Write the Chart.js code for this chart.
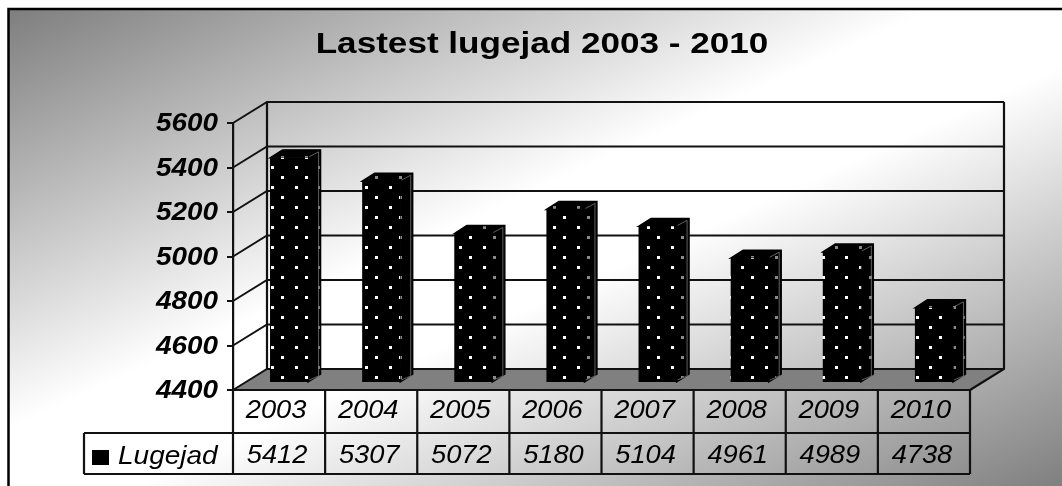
<!DOCTYPE html>
<html><head><meta charset="utf-8">
<script src="https://cdn.jsdelivr.net/npm/chart.js@4"></script>
<style>html,body{margin:0;padding:0;background:#fff}canvas{display:block}</style>
</head><body><canvas id="c" width="1062" height="486"></canvas>
<script>
const chartTitle = "Lastest lugejad 2003 - 2010";
const seriesName = "Lugejad";
const categories = ["2003","2004","2005","2006","2007","2008","2009","2010"];
const lugejad = [5412,5307,5072,5180,5104,4961,4989,4738];
const yMin = 4400, yMax = 5600, yStep = 200;

const WALL = {dx:34, dy:-21}, BAR = {ox:10, oy:-7, dx:12.5, dy:-8};
const STRETCH = 1.09;

function dotPattern(color, ox, oy){
  const t = document.createElement('canvas'); t.width = 47; t.height = 20;
  const g = t.getContext('2d');
  g.fillStyle = '#000'; g.fillRect(0,0,47,20);
  g.fillStyle = color;
  [[0,0],[24,0],[10,10],[34,10]].forEach(p=>g.fillRect(p[0],p[1],3,3));
  const pat = g.createPattern(t,'repeat');
  pat.setTransform(new DOMMatrix().translate(ox,oy));
  return pat;
}
const frontPattern = dotPattern('#ffffff', 271-BAR.ox, 166-BAR.oy);
const sidePattern  = dotPattern('#8a8a8a', 271, 166);

function wideText(c, text, x, y, sx){
  c.save(); c.translate(x,y); c.scale(sx,1); c.fillText(text,0,0); c.restore();
}

const scene = {
  id:'scene',
  afterLayout(chart){
    const c = chart.ctx, tb = chart.titleBlock, xs = chart.scales.x, ys = chart.scales.y;
    const titleDraw = tb.draw;
    tb.draw = function(){
      const cx = (this.left+this.right)/2;
      c.save(); c.translate(542,0); c.scale(1.17,1); c.translate(-cx,0);
      titleDraw.call(this); c.restore();
    };
    const yLabels = ys.drawLabels;
    ys.drawLabels = function(ca){
      const ax = this.right-15;
      c.save(); c.translate(ax,1.5); c.scale(1.115,1); c.translate(-ax,0);
      yLabels.call(this,ca); c.restore();
    };
    xs.drawLabels = function(){
      const f = this.options.ticks.font;
      c.save();
      c.font = f.style+' '+f.size+'px '+f.family;
      c.fillStyle = '#000'; c.textAlign='center'; c.textBaseline='middle';
      this.ticks.forEach((t,i)=>wideText(c,String(t.label),this.getPixelForTick(i)-3,411,STRETCH));
      c.restore();
    };
  },
  beforeDraw(chart){
    const c = chart.ctx, W = chart.width, H = chart.height;
    c.save();
    const g = c.createLinearGradient(356,-148,714,642);
    g.addColorStop(0,'#7e7e7e'); g.addColorStop(0.44,'#ffffff'); g.addColorStop(0.56,'#ffffff');
    g.addColorStop(1,'#808080');
    c.fillStyle = g; c.fillRect(8,9,W-8,H-9);
    c.strokeStyle = '#000'; c.lineWidth = 2.5;
    c.beginPath(); c.moveTo(8.5,H); c.lineTo(8.5,9); c.lineTo(W,9); c.stroke();
    c.restore();
  },
  beforeDatasetsDraw(chart){
    const c = chart.ctx, y = chart.scales.y, a = chart.chartArea;
    const L=a.left, R=a.right, B=a.bottom, T=a.top, dx=WALL.dx, dy=WALL.dy;
    c.save();
    c.fillStyle = '#808080';
    c.beginPath(); c.moveTo(L,B); c.lineTo(R,B); c.lineTo(R+dx,B+dy); c.lineTo(L+dx,B+dy); c.closePath(); c.fill();
    c.strokeStyle = '#111'; c.lineWidth = 2;
    y.ticks.forEach((t,i)=>{
      const p = y.getPixelForTick(i);
      c.beginPath(); c.moveTo(L,p); c.lineTo(L+dx,p+dy); c.lineTo(R+dx,p+dy); c.stroke();
    });
    c.lineWidth = 2.2;
    c.beginPath(); c.moveTo(L+dx,T+dy); c.lineTo(L+dx,B+dy); c.stroke();
    c.beginPath(); c.moveTo(R+dx,T+dy); c.lineTo(R+dx,B+dy); c.lineTo(R,B); c.stroke();
    c.restore();
  },
  beforeDatasetDraw(chart,args){
    const c = chart.ctx;
    c.save();
    args.meta.data.forEach(b=>{
      const x0=b.x-b.width/2+BAR.ox, x1=b.x+b.width/2+BAR.ox, top=b.y+BAR.oy, bot=b.base+BAR.oy;
      const dx=BAR.dx, dy=BAR.dy;
      c.fillStyle = sidePattern;
      c.beginPath(); c.moveTo(x0,top); c.lineTo(x0+dx,top+dy); c.lineTo(x1+dx,top+dy); c.lineTo(x1+dx,bot+dy); c.lineTo(x1,bot); c.lineTo(x1,top); c.closePath(); c.fill();
      c.strokeStyle='#000'; c.lineWidth=1.4; c.stroke();
      c.strokeStyle='#777'; c.lineWidth=0.8;
      c.beginPath(); c.moveTo(x1+1,top-1); c.lineTo(x1+dx-2,top+dy+2); c.lineTo(x1+dx-2,bot+dy+2); c.lineTo(x1+1,bot-2); c.stroke();
    });
    c.restore();
    c.save();
    c.translate(BAR.ox,BAR.oy);
  },
  afterDatasetDraw(chart){ chart.ctx.restore(); },
  afterDraw(chart){
    const c = chart.ctx, x = chart.scales.x, a = chart.chartArea;
    const L=a.left, R=a.right, B=a.bottom, rowMid=433, bot=474, legL=84;
    c.save();
    c.strokeStyle='#111'; c.lineWidth=2.2;
    c.beginPath();
    c.moveTo(L,B); c.lineTo(L,bot);
    c.moveTo(R,B); c.lineTo(R,bot);
    c.moveTo(L,B); c.lineTo(R,B);
    c.moveTo(legL,rowMid); c.lineTo(R,rowMid);
    c.moveTo(legL,bot); c.lineTo(R,bot);
    c.moveTo(legL,rowMid); c.lineTo(legL,bot);
    categories.forEach((k,i)=>{
      if(i===0) return;
      const p=(x.getPixelForValue(i-1)+x.getPixelForValue(i))/2;
      c.moveTo(p,B); c.lineTo(p,bot);
    });
    c.stroke();
    c.fillStyle='#000'; c.textBaseline='middle';
    c.font='italic 25px "Liberation Sans"'; c.textAlign='center';
    lugejad.forEach((v,i)=>wideText(c,String(v),x.getPixelForValue(i)-2,456,STRETCH));
    c.textAlign='left';
    wideText(c,seriesName,118,457,1.12);
    c.fillRect(92,450,17,15);
    c.restore();
  }
};

new Chart(document.getElementById('c'),{
  type:'bar',
  data:{labels:categories,datasets:[{label:seriesName,data:lugejad,base:yMin,backgroundColor:frontPattern,
    categoryPercentage:1,barPercentage:0.413,borderWidth:0,clip:false}]},
  options:{
    responsive:false,animation:false,
    layout:{padding:{left:0,right:92,top:0,bottom:0}},
    plugins:{
      legend:{display:false},tooltip:{enabled:false},
      title:{display:true,text:chartTitle,color:'#000',font:{family:'"Liberation Sans"',size:30,weight:'bold',lineHeight:1.2},padding:{top:27,bottom:60}}
    },
    scales:{
      x:{offset:true,afterFit(s){s.height=96;},
        grid:{display:false},border:{display:false},
        ticks:{color:'#000',padding:8,maxRotation:0,font:{family:'"Liberation Sans"',size:25,style:'italic'}}},
      y:{min:yMin,max:yMax,afterFit(s){s.width=233;},
        grid:{drawOnChartArea:false,color:'#111',lineWidth:2,tickLength:6,tickColor:'#111'},
        border:{display:true,color:'#111',width:2.2},
        ticks:{stepSize:yStep,color:'#000',padding:9,callback:v=>String(v),font:{family:'"Liberation Sans"',size:25,style:'italic',weight:'bold'}}}
    }
  },
  plugins:[scene]
});
</script></body></html>
